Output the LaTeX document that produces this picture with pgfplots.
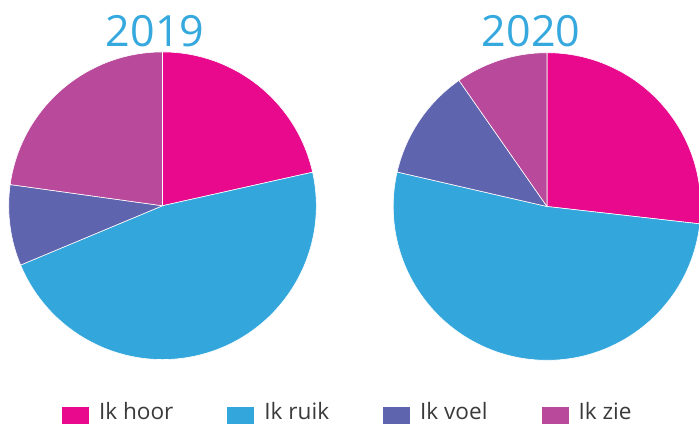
\documentclass[border=0pt]{standalone}
\usepackage{pgfplots}
\pgfplotsset{compat=1.18}
\usepackage{pgfplotstable}
\usepackage{fontspec}
\setmainfont{Open Sans}
\definecolor{cHoor}{HTML}{E8098D}
\definecolor{cRuik}{HTML}{33A6DC}
\definecolor{cVoel}{HTML}{5F64AE}
\definecolor{cZie}{HTML}{B9499B}
\definecolor{cTitle}{HTML}{35A8DE}
\definecolor{cText}{HTML}{3A3A3A}

% shares in percent, clockwise from 12 o'clock
\pgfplotstableread{
label y2019 y2020
hoor  21.5  26.8
ruik  47.2  51.8
voel  8.5   11.7
zie   22.8  9.7
}\piedata

\newcommand\drawpie[4]{%
  \xdef\startangle{90}%
  \foreach \i/\c in {0/cHoor,1/cRuik,2/cVoel,3/cZie}{%
    \pgfplotstablegetelem{\i}{#1}\of\piedata
    \pgfmathsetmacro\endangle{\startangle-3.6*\pgfplotsretval}%
    \fill[\c,draw=white,line width=0.3pt] (axis cs:#2,#3) -- ++(\startangle:#4)
      arc[start angle=\startangle,end angle=\endangle,radius=#4] -- cycle;
    \xdef\startangle{\endangle}%
  }}

\begin{document}
\begin{tikzpicture}
\begin{axis}[
  at={(0,0)}, anchor=south west,
  x=0.5pt, y=0.5pt, scale only axis,
  xmin=0, xmax=699, ymin=0, ymax=423,
  hide axis, clip=false,
  legend columns=4,
  legend cell align=left,
  legend image code/.code={\fill[#1,draw=none] (0pt,-11.3pt) rectangle (13.5pt,2.7pt);},
  legend style={at={(axis cs:62,20.5)}, anchor=north west,
    draw=none, fill=none, inner sep=0pt, outer sep=0pt,
    font=\fontsize{11.3}{14}\selectfont, text=cText,
    nodes={inner sep=0pt},
    /tikz/every odd column/.append style={column sep=5pt},
    /tikz/every even column/.append style={column sep=27pt}},
]
\addlegendimage{fill=cHoor}
\addlegendentry{Ik hoor}
\addlegendimage{fill=cRuik}
\addlegendentry{Ik ruik}
\addlegendimage{fill=cVoel}
\addlegendentry{Ik voel}
\addlegendimage{fill=cZie}
\addlegendentry{Ik zie}
\pgfplotsextra{%
  \drawpie{y2019}{162.5}{217.25}{76.9pt}%
  \drawpie{y2020}{547}{216.5}{76.9pt}%
}
\node[anchor=base, inner sep=0pt, text=cTitle, font=\fontsize{21.5}{24}\selectfont] at (axis cs:155,376) {2019};
\node[anchor=base, inner sep=0pt, text=cTitle, font=\fontsize{21.5}{24}\selectfont] at (axis cs:531,376) {2020};
\end{axis}
\pgfresetboundingbox
\path (0,0) rectangle (349.5pt,211.5pt);
\end{tikzpicture}
\end{document}
